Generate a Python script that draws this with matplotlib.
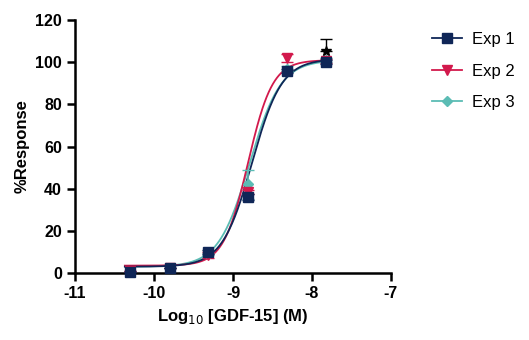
import numpy as np
import matplotlib
matplotlib.use('Agg')
import matplotlib.pyplot as plt

plt.rcParams['font.family'] = ['Liberation Sans', 'DejaVu Sans']
plt.rcParams['axes.unicode_minus'] = False

# log10 concentration of GDF-15 (M)
log_conc = [-10.3, -9.8, -9.32, -8.81, -8.32, -7.82]

exp1 = [0.5, 2.5, 10.0, 36.0, 96.0, 100.0]
exp1_err = [0.0, 0.0, 1.0, 1.5, 1.0, 1.0]
exp2 = [1.0, 2.5, 8.5, 38.5, 102.0, 100.5]
exp2_err = [0.0, 0.0, 1.5, 1.0, 2.0, 1.0]
exp3 = [1.0, 2.5, 9.0, 42.0, 97.0, 101.0]
exp3_err = [0.0, 0.0, 0.5, 7.0, 1.0, 1.0]

# extra point at top concentration
star_x = [-7.82]
star_y = [105.5]
star_err = [5.5]

# 4PL fit parameters: bottom, top, logEC50, hill
fit1 = (3.0, 101.5, -8.76, 2.3)
fit2 = (3.5, 101.0, -8.81, 2.8)
fit3 = (3.0, 101.0, -8.79, 2.2)

names = ['Exp 1', 'Exp 2', 'Exp 3']
colors = ['#0f2657', '#d2194c', '#5bbcb4']
markers = ['s', 'v', 'D']
msizes = [7, 7, 5]


def four_pl(x, p):
    bottom, top, logec50, hill = p
    return bottom + (top - bottom) / (1 + 10 ** ((logec50 - x) * hill))


fig = plt.figure(figsize=(5.29, 3.4), dpi=100)
ax = fig.add_axes([0.142, 0.197, 0.597, 0.744])

xs = np.linspace(-10.37, -7.8, 300)
series = [exp1, exp2, exp3]
errs = [exp1_err, exp2_err, exp3_err]
fits = [fit1, fit2, fit3]

# draw in reverse so Exp 1 sits on top
for i in [2, 1, 0]:
    ax.plot(xs, four_pl(xs, fits[i]), color=colors[i], lw=1.3, zorder=3)
for i in [2, 1, 0]:
    ax.errorbar(log_conc, series[i], yerr=errs[i], fmt='none', ecolor=colors[i],
                elinewidth=1.2, capsize=4, zorder=4, clip_on=False)
    ax.plot(log_conc, series[i], linestyle='none', marker=markers[i], ms=msizes[i],
            color=colors[i], zorder=5 + (2 - i), clip_on=False)

ax.errorbar(star_x, star_y, yerr=[[0], star_err], fmt='*', color='black', ms=7,
            elinewidth=1.0, capsize=4, zorder=9, clip_on=False)

# legend handles
handles = []
for i in range(3):
    h, = ax.plot([], [], color=colors[i], marker=markers[i], ms=msizes[i], lw=1.3)
    handles.append(h)
fig.legend(handles, names, loc='upper left', bbox_to_anchor=(0.788, 0.95),
           frameon=False, fontsize=12, handlelength=1.8, labelspacing=1.0,
           handletextpad=0.6)

ax.set_xlim(-11, -7)
ax.set_ylim(0, 120)
ax.set_xticks([-11, -10, -9, -8, -7])
ax.set_yticks([0, 20, 40, 60, 80, 100, 120])
for s in ['top', 'right']:
    ax.spines[s].set_visible(False)
for s in ['left', 'bottom']:
    ax.spines[s].set_linewidth(1.8)
ax.tick_params(width=1.8, length=6, labelsize=11.5, direction='out')
for lab in ax.get_xticklabels() + ax.get_yticklabels():
    lab.set_fontweight('bold')

ax.set_xlabel('Log$_{10}$ [GDF-15] (M)', fontsize=12, fontweight='bold')
ax.set_ylabel('%Response', fontsize=12, fontweight='bold')

fig.savefig('out.png', dpi=100)
